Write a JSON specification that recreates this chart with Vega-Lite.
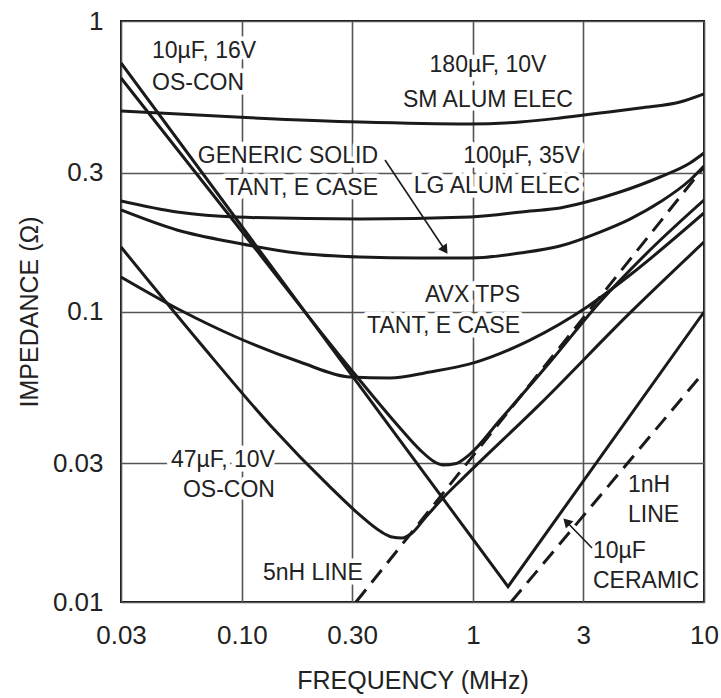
{
  "$schema": "https://vega.github.io/schema/vega-lite/v6.json",
  "width": 583,
  "height": 581,
  "autosize": {"type": "none"},
  "padding": {"left": 121, "top": 21, "right": 17, "bottom": 96},
  "background": "white",
  "config": {
    "view": {"stroke": "#111111", "strokeWidth": 2},
    "text": {"font": "Liberation Sans", "fontSize": 23, "fill": "#222222"}
  },
  "datasets": {
    "curves": [
      {"s": "sm180", "f": 0.03, "z": 0.49}, {"s": "sm180", "f": 0.0944, "z": 0.467}, {"s": "sm180", "f": 0.3246, "z": 0.449}, {"s": "sm180", "f": 0.962, "z": 0.442}, {"s": "sm180", "f": 1.599, "z": 0.449}, {"s": "sm180", "f": 2.382, "z": 0.4635}, {"s": "sm180", "f": 3.547, "z": 0.482}, {"s": "sm180", "f": 5.286, "z": 0.502}, {"s": "sm180", "f": 7.876, "z": 0.526}, {"s": "sm180", "f": 10, "z": 0.561},
      {"s": "lg100", "f": 0.03, "z": 0.24}, {"s": "lg100", "f": 0.0524, "z": 0.22}, {"s": "lg100", "f": 0.0944, "z": 0.2114}, {"s": "lg100", "f": 0.3246, "z": 0.2081}, {"s": "lg100", "f": 0.9714, "z": 0.2114}, {"s": "lg100", "f": 1.766, "z": 0.2218}, {"s": "lg100", "f": 2.382, "z": 0.2271}, {"s": "lg100", "f": 3.086, "z": 0.2381}, {"s": "lg100", "f": 4.329, "z": 0.2578}, {"s": "lg100", "f": 6.451, "z": 0.2904}, {"s": "lg100", "f": 8.7, "z": 0.3245}, {"s": "lg100", "f": 10, "z": 0.3512},
      {"s": "generic", "f": 0.03, "z": 0.2236}, {"s": "generic", "f": 0.0524, "z": 0.1908}, {"s": "generic", "f": 0.0953, "z": 0.1721}, {"s": "generic", "f": 0.1733, "z": 0.159}, {"s": "generic", "f": 0.3246, "z": 0.154}, {"s": "generic", "f": 0.5902, "z": 0.1528}, {"s": "generic", "f": 0.9714, "z": 0.1528}, {"s": "generic", "f": 1.599, "z": 0.159}, {"s": "generic", "f": 2.382, "z": 0.168}, {"s": "generic", "f": 3.547, "z": 0.1877}, {"s": "generic", "f": 4.783, "z": 0.2081}, {"s": "generic", "f": 6.451, "z": 0.2381}, {"s": "generic", "f": 8.7, "z": 0.2836}, {"s": "generic", "f": 10, "z": 0.3169},
      {"s": "avx", "f": 0.03, "z": 0.1315}, {"s": "avx", "f": 0.054, "z": 0.1012}, {"s": "avx", "f": 0.0944, "z": 0.0817}, {"s": "avx", "f": 0.1785, "z": 0.067}, {"s": "avx", "f": 0.2938, "z": 0.0595}, {"s": "avx", "f": 0.4378, "z": 0.059}, {"s": "avx", "f": 0.6521, "z": 0.0619}, {"s": "avx", "f": 0.9714, "z": 0.066}, {"s": "avx", "f": 1.766, "z": 0.0797}, {"s": "avx", "f": 3.117, "z": 0.1036}, {"s": "avx", "f": 4.783, "z": 0.1335}, {"s": "avx", "f": 10, "z": 0.2183},
      {"s": "os10", "f": 0.03, "z": 0.6364}, {"s": "os10", "f": 0.0944, "z": 0.2}, {"s": "os10", "f": 0.3028, "z": 0.0619}, {"s": "os10", "f": 0.4836, "z": 0.0397}, {"s": "os10", "f": 0.5902, "z": 0.0334}, {"s": "os10", "f": 0.6853, "z": 0.0303}, {"s": "os10", "f": 0.7422, "z": 0.0296}, {"s": "os10", "f": 0.8367, "z": 0.0299}, {"s": "os10", "f": 0.9714, "z": 0.0323}, {"s": "os10", "f": 1.3095, "z": 0.0423}, {"s": "os10", "f": 2.1566, "z": 0.067}, {"s": "os10", "f": 3.547, "z": 0.1078}, {"s": "os10", "f": 5.84, "z": 0.1628}, {"s": "os10", "f": 10, "z": 0.2419},
      {"s": "os47", "f": 0.03, "z": 0.1667}, {"s": "os47", "f": 0.0659, "z": 0.0779}, {"s": "os47", "f": 0.1324, "z": 0.0407}, {"s": "os47", "f": 0.2407, "z": 0.0249}, {"s": "os47", "f": 0.3246, "z": 0.0199}, {"s": "os47", "f": 0.3962, "z": 0.01755}, {"s": "os47", "f": 0.4466, "z": 0.01674}, {"s": "os47", "f": 0.4932, "z": 0.0166}, {"s": "os47", "f": 0.5451, "z": 0.01728}, {"s": "os47", "f": 0.6205, "z": 0.01946}, {"s": "os47", "f": 0.7422, "z": 0.0228}, {"s": "os47", "f": 0.906, "z": 0.0267}, {"s": "os47", "f": 1.951, "z": 0.048}, {"s": "os47", "f": 4.783, "z": 0.0989}, {"s": "os47", "f": 10, "z": 0.1734}
    ],
    "ceramic": [
      {"s": "cer10", "f": 0.03, "z": 0.7168}, {"s": "cer10", "f": 1.419, "z": 0.0113}, {"s": "cer10", "f": 10, "z": 0.0996}
    ],
    "dashed": [
      {"s": "5nH", "f": 0.312, "z": 0.01}, {"s": "5nH", "f": 10, "z": 0.3144},
      {"s": "1nH", "f": 1.462, "z": 0.01}, {"s": "1nH", "f": 10, "z": 0.0619}
    ],
    "arrows": [
      {"a": "generic", "f": 0.4165, "z": 0.3323}, {"a": "generic", "f": 0.757, "z": 0.1628},
      {"a": "ceramic", "f": 3.277, "z": 0.01534}, {"a": "ceramic", "f": 2.541, "z": 0.0189}
    ],
    "heads": [
      {"a": "generic", "f": 0.757, "z": 0.1628},
      {"a": "ceramic", "f": 2.541, "z": 0.0189}
    ],
    "labelsLeft": [
      {"t": "10µF, 16V", "f": 0.04087, "z": 0.7461},
      {"t": "OS-CON", "f": 0.04087, "z": 0.5787},
      {"t": "5nH LINE", "f": 0.1235, "z": 0.0119},
      {"t": "1nH", "f": 4.69, "z": 0.02392},
      {"t": "LINE", "f": 4.69, "z": 0.01886},
      {"t": "10µF", "f": 3.309, "z": 0.01417},
      {"t": "CERAMIC", "f": 3.309, "z": 0.01117}
    ],
    "labelsRight": [
      {"t": "GENERIC SOLID", "f": 0.3885, "z": 0.3245},
      {"t": "TANT, E CASE", "f": 0.3885, "z": 0.2518},
      {"t": "100µF, 35V", "f": 2.907, "z": 0.3245},
      {"t": "LG ALUM ELEC", "f": 2.907, "z": 0.2558},
      {"t": "AVX TPS", "f": 1.599, "z": 0.1078},
      {"t": "TANT, E CASE", "f": 1.599, "z": 0.0843},
      {"t": "47µF, 10V", "f": 0.1391, "z": 0.02915},
      {"t": "OS-CON", "f": 0.1391, "z": 0.02298}
    ],
    "labelsCenter": [
      {"t": "180µF, 10V", "f": 1.162, "z": 0.6675},
      {"t": "SM ALUM ELEC", "f": 1.162, "z": 0.5058}
    ]
  },
  "encoding": {
    "x": {
      "field": "f", "type": "quantitative",
      "scale": {"type": "log", "domain": [0.03, 10], "nice": false, "zero": false},
      "axis": {
        "values": [0.03, 0.1, 0.3, 1, 3, 10],
        "labelExpr": "datum.value < 0.05 ? '0.03' : datum.value < 0.2 ? '0.10' : datum.value < 0.5 ? '0.30' : datum.value < 2 ? '1' : datum.value < 5 ? '3' : '10'",
        "title": "FREQUENCY (MHz)",
        "domain": false, "ticks": false,
        "grid": true, "gridColor": "#555555", "gridWidth": 1.6, "gridOpacity": 1,
        "labelFont": "Liberation Sans", "labelFontSize": 26, "labelColor": "#222222",
        "labelBaseline": "alphabetic", "labelPadding": 41, "labelFlush": false, "labelOverlap": false,
        "titleFont": "Liberation Sans", "titleFontSize": 25, "titleFontWeight": "normal", "titleColor": "#222222",
        "titleBaseline": "alphabetic", "titleY": 86, "titleX": 291.5, "titleAnchor": "middle", "titleAlign": "center"
      }
    },
    "y": {
      "field": "z", "type": "quantitative",
      "scale": {"type": "log", "domain": [0.01, 1], "nice": false, "zero": false},
      "axis": {
        "values": [0.01, 0.03, 0.1, 0.3, 1],
        "labelExpr": "datum.value < 0.02 ? '0.01' : datum.value < 0.05 ? '0.03' : datum.value < 0.2 ? '0.1' : datum.value < 0.5 ? '0.3' : '1'",
        "title": "IMPEDANCE (Ω)",
        "domain": false, "ticks": false,
        "grid": true, "gridColor": "#555555", "gridWidth": 1.6, "gridOpacity": 1,
        "labelFont": "Liberation Sans", "labelFontSize": 26, "labelColor": "#222222",
        "labelPadding": 18, "labelFlush": false, "labelOverlap": false,
        "titleFont": "Liberation Sans", "titleFontSize": 25, "titleFontWeight": "normal", "titleColor": "#222222",
        "titleBaseline": "alphabetic", "titleAngle": 270, "titleX": -84, "titleY": 290.5, "titleAnchor": "middle", "titleAlign": "center"
      }
    }
  },
  "layer": [
    {
      "data": {"name": "labelsLeft"},
      "mark": {"type": "text", "align": "left", "baseline": "alphabetic", "fill": "white", "stroke": "white", "strokeWidth": 9, "strokeJoin": "round", "clip": true},
      "encoding": {"text": {"field": "t"}}
    },
    {
      "data": {"name": "labelsRight"},
      "mark": {"type": "text", "align": "right", "baseline": "alphabetic", "fill": "white", "stroke": "white", "strokeWidth": 9, "strokeJoin": "round", "clip": true},
      "encoding": {"text": {"field": "t"}}
    },
    {
      "data": {"name": "labelsCenter"},
      "mark": {"type": "text", "align": "center", "baseline": "alphabetic", "fill": "white", "stroke": "white", "strokeWidth": 9, "strokeJoin": "round", "clip": true},
      "encoding": {"text": {"field": "t"}}
    },
    {
      "data": {"name": "curves"},
      "mark": {"type": "line", "interpolate": "monotone", "stroke": "#1a1a1a", "strokeWidth": 3, "clip": true},
      "encoding": {"detail": {"field": "s"}}
    },
    {
      "data": {"name": "ceramic"},
      "mark": {"type": "line", "interpolate": "linear", "stroke": "#1a1a1a", "strokeWidth": 3, "clip": true},
      "encoding": {"detail": {"field": "s"}}
    },
    {
      "data": {"name": "dashed"},
      "mark": {"type": "line", "interpolate": "linear", "stroke": "#1a1a1a", "strokeWidth": 3, "strokeDash": [16, 9], "clip": true},
      "encoding": {"detail": {"field": "s"}}
    },
    {
      "data": {"name": "arrows"},
      "mark": {"type": "line", "interpolate": "linear", "stroke": "#1a1a1a", "strokeWidth": 1.6},
      "encoding": {"detail": {"field": "a"}}
    },
    {
      "data": {"name": "heads"},
      "transform": [{"filter": "datum.a == 'generic'"}],
      "mark": {"type": "point", "shape": "triangle-up", "filled": true, "fill": "#1a1a1a", "stroke": null, "size": 110, "angle": 146, "opacity": 1}
    },
    {
      "data": {"name": "heads"},
      "transform": [{"filter": "datum.a == 'ceramic'"}],
      "mark": {"type": "point", "shape": "triangle-up", "filled": true, "fill": "#1a1a1a", "stroke": null, "size": 110, "angle": 316, "opacity": 1}
    },
    {
      "data": {"name": "labelsLeft"},
      "mark": {"type": "text", "align": "left", "baseline": "alphabetic"},
      "encoding": {"text": {"field": "t"}}
    },
    {
      "data": {"name": "labelsRight"},
      "mark": {"type": "text", "align": "right", "baseline": "alphabetic"},
      "encoding": {"text": {"field": "t"}}
    },
    {
      "data": {"name": "labelsCenter"},
      "mark": {"type": "text", "align": "center", "baseline": "alphabetic"},
      "encoding": {"text": {"field": "t"}}
    }
  ]
}
